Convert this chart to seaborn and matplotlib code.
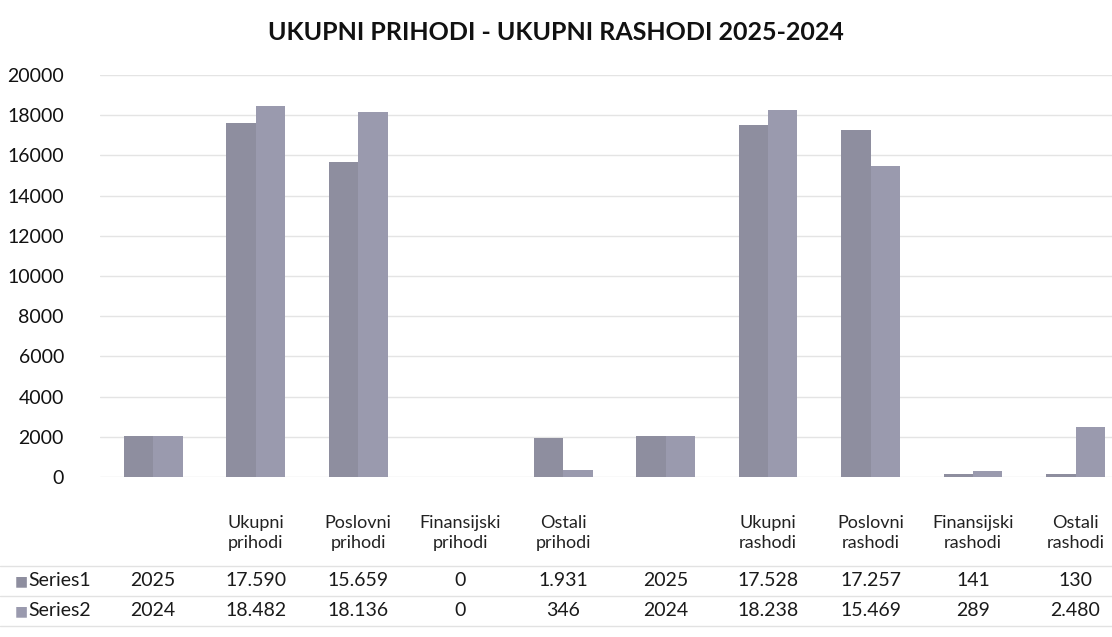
import matplotlib
matplotlib.use("Agg")
import matplotlib.pyplot as plt
from matplotlib.lines import Line2D
from matplotlib.transforms import blended_transform_factory
import seaborn as sns
import pandas as pd

categories = ["", "Ukupni\nprihodi", "Poslovni\nprihodi", "Finansijski\nprihodi", "Ostali\nprihodi",
              " ", "Ukupni\nrashodi", "Poslovni\nrashodi", "Finansijski\nrashodi", "Ostali\nrashodi"]
series_names = ["Series1", "Series2"]
series1 = [2025, 17590, 15659, 0, 1931, 2025, 17528, 17257, 141, 130]
series2 = [2024, 18482, 18136, 0, 346, 2024, 18238, 15469, 289, 2480]
year_cols = [0, 5]  # columns holding the year, shown without separator

colors = ["#8e8e9f", "#9a9aae"]

sns.set_theme(style="white")
plt.rcParams["font.family"] = ["Lato", "DejaVu Sans"]

df = pd.DataFrame({
    "category": categories * 2,
    "series": [series_names[0]] * len(categories) + [series_names[1]] * len(categories),
    "value": series1 + series2,
})

fig = plt.figure(figsize=(11.12, 6.37), dpi=100)
ax = fig.add_axes([0.09, 1 - 477 / 637, 0.91, (477 - 75) / 637])

sns.barplot(data=df, x="category", y="value", hue="series", order=categories,
            hue_order=series_names, palette=colors, width=0.575, gap=0,
            saturation=1, legend=False, ax=ax, errorbar=None, linewidth=0)

ax.set_xlim(-0.517, 9.356)
ax.set_ylim(0, 20000)
ax.set_yticks(range(0, 20001, 2000))
ax.tick_params(axis="y", length=0, pad=26, labelsize=14, colors="#111111")
ax.set_xticks([])
ax.set_xlabel("")
ax.set_ylabel("")
ax.yaxis.grid(True, color="#e4e4e4", linewidth=1)
ax.set_axisbelow(True)
for s in ax.spines.values():
    s.set_visible(False)

fig.text(0.5, 1 - 33 / 637, "UKUPNI PRIHODI - UKUPNI RASHODI 2025-2024",
         ha="center", va="center", fontsize=18, fontweight="bold", color="#111111")

# data table under the plot
tr = blended_transform_factory(ax.transData, fig.transFigure)
for i, cat in enumerate(categories):
    ax.text(i, 1 - 533 / 637, cat, transform=tr, ha="center", va="center",
            fontsize=13, color="#222222", linespacing=1.35)


def fmt(v, i):
    if i in year_cols:
        return str(v)
    return f"{v:,}".replace(",", ".")


row_y = [581, 611]
for vals, y in zip([series1, series2], row_y):
    for i, v in enumerate(vals):
        ax.text(i, 1 - y / 637, fmt(v, i), transform=tr, ha="center", va="center",
                fontsize=14, color="#1a1a1a")

for name, col, y in zip(series_names, colors, row_y):
    fig.text(15 / 1112, 1 - y / 637, "\u25a0", ha="left", va="center", fontsize=10,
             color=col, family=["DejaVu Sans"])
    fig.text(28 / 1112, 1 - y / 637, name, ha="left", va="center", fontsize=14, color="#1a1a1a")

for y in [566, 596, 626]:
    fig.add_artist(Line2D([0, 1], [1 - y / 637] * 2, color="#e2e2e2", linewidth=1))

fig.savefig("out.png", dpi=100, facecolor="white")
